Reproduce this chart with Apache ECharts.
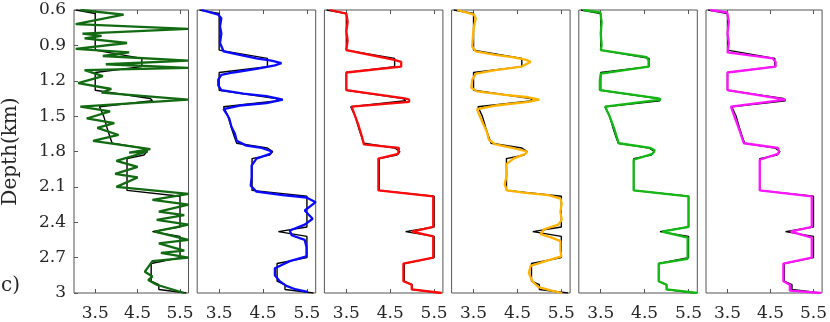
<!DOCTYPE html>
<html>
<head>
<meta charset="utf-8">
<script src="https://cdn.jsdelivr.net/npm/echarts@6/dist/echarts.min.js"></script>
<style>
  html, body { margin: 0; padding: 0; background: #fff; }
  #chart { width: 830px; height: 322px; }
</style>
</head>
<body>
<div id="chart"></div>
<script>
// points are [velocity (km/s), depth (km)]
const velTicks = [3.5, 4.5, 5.5]

const trueModel = [
  [3.05, 0.60], [3.5, 0.63], [3.5, 0.94], [4.6, 1.01], [4.6, 1.08], [3.5, 1.13], [3.5, 1.28],
  [4.8, 1.35], [4.85, 1.37], [3.6, 1.42], [3.7, 1.50], [3.78, 1.60], [3.85, 1.68], [3.9, 1.73],
  [4.6, 1.77], [4.72, 1.80], [4.65, 1.83], [4.25, 1.86], [4.25, 2.13], [5.5, 2.18], [5.5, 2.44],
  [4.85, 2.48], [5.5, 2.52], [5.5, 2.70], [4.82, 2.75], [4.82, 2.90], [5.0, 2.93], [5.0, 2.97],
  [5.65, 3.0]
]

const initModel = [
  [3.15, 0.60], [4.17, 0.64], [3.04, 0.72], [5.69, 0.76], [3.2, 0.80], [3.65, 0.82], [3.25, 0.84],
  [4.25, 0.88], [3.04, 0.93], [4.3, 0.96], [3.68, 0.99], [5.69, 1.03], [3.75, 1.06], [5.69, 1.09],
  [3.25, 1.11], [3.68, 1.16], [3.1, 1.22], [3.88, 1.27], [3.65, 1.30], [5.69, 1.36], [3.15, 1.42],
  [3.85, 1.46], [3.3, 1.52], [3.95, 1.56], [3.55, 1.60], [4.05, 1.66], [3.45, 1.71], [4.8, 1.78],
  [4.3, 1.81], [4.74, 1.80], [4.0, 1.88], [4.5, 1.93], [3.97, 1.99], [4.5, 2.02], [4.0, 2.1],
  [5.7, 2.16], [4.85, 2.21], [5.7, 2.25], [5.0, 2.31], [5.6, 2.34], [4.95, 2.38], [5.7, 2.42],
  [4.9, 2.48], [5.7, 2.55], [5.0, 2.58], [5.6, 2.64], [5.05, 2.66], [5.7, 2.70], [4.85, 2.73],
  [4.67, 2.82], [4.85, 2.86], [4.75, 2.89], [4.95, 2.93], [5.6, 3.0]
]

const blueModel = [
  [3.1, 0.60], [3.48, 0.64], [3.55, 0.67], [3.52, 0.74], [3.55, 0.80], [3.52, 0.88], [3.6, 0.95],
  [3.97, 0.98], [4.35, 1.01], [4.69, 1.03], [4.92, 1.05], [4.77, 1.07], [4.35, 1.10], [3.82, 1.13],
  [3.55, 1.15], [3.48, 1.19], [3.48, 1.24], [3.55, 1.28], [4.05, 1.31], [4.58, 1.33], [4.95, 1.36],
  [4.58, 1.39], [3.97, 1.41], [3.6, 1.44], [3.67, 1.48], [3.73, 1.52], [3.78, 1.59], [3.86, 1.65],
  [3.9, 1.71], [4.12, 1.75], [4.47, 1.77], [4.7, 1.80], [4.66, 1.82], [4.35, 1.86], [4.24, 1.92],
  [4.24, 2.02], [4.22, 2.09], [4.35, 2.14], [4.95, 2.17], [5.49, 2.19], [5.7, 2.23], [5.45, 2.30],
  [5.63, 2.37], [5.45, 2.42], [5.11, 2.47], [5.15, 2.51], [5.45, 2.55], [5.49, 2.61], [5.49, 2.69],
  [5.11, 2.73], [4.77, 2.79], [4.77, 2.85], [4.88, 2.90], [5.03, 2.94], [5.25, 2.97], [5.52, 2.99]
]

const redModel = [
  [3.13, 0.60], [3.5, 0.63], [3.53, 0.70], [3.5, 0.78], [3.53, 0.86], [3.5, 0.94], [4.57, 1.02],
  [4.75, 1.04], [4.75, 1.08], [3.5, 1.13], [3.5, 1.28], [4.83, 1.35], [4.93, 1.36], [4.93, 1.38],
  [3.62, 1.42], [3.7, 1.50], [3.77, 1.57], [3.86, 1.68], [3.9, 1.74], [4.7, 1.77], [4.68, 1.82],
  [4.23, 1.86], [4.23, 2.13], [5.48, 2.18], [5.48, 2.44], [5.0, 2.48], [5.48, 2.52], [5.48, 2.70],
  [4.8, 2.75], [4.8, 2.90], [4.99, 2.93], [4.99, 2.97], [5.67, 3.0]
]

const orangeModel = [
  [3.13, 0.60], [3.51, 0.64], [3.55, 0.67], [3.51, 0.74], [3.49, 0.80], [3.47, 0.91], [3.55, 0.95],
  [4.0, 0.98], [4.38, 1.0], [4.68, 1.02], [4.8, 1.04], [4.6, 1.08], [4.0, 1.11], [3.55, 1.14],
  [3.47, 1.19], [3.45, 1.26], [3.58, 1.29], [4.22, 1.32], [4.75, 1.34], [5.0, 1.36], [4.75, 1.38],
  [4.0, 1.41], [3.58, 1.44], [3.62, 1.48], [3.7, 1.55], [3.8, 1.63], [3.85, 1.70], [4.0, 1.74],
  [4.38, 1.77], [4.72, 1.80], [4.68, 1.82], [4.41, 1.86], [4.24, 1.91], [4.26, 1.99], [4.21, 2.08],
  [4.26, 2.13], [4.68, 2.15], [5.21, 2.17], [5.48, 2.20], [5.51, 2.24], [5.48, 2.31], [5.51, 2.38],
  [5.43, 2.42], [5.1, 2.46], [5.03, 2.50], [5.28, 2.53], [5.48, 2.56], [5.48, 2.64], [5.5, 2.69],
  [5.14, 2.73], [4.8, 2.77], [4.76, 2.83], [4.84, 2.90], [4.98, 2.95], [5.28, 2.98], [5.52, 3.0]
]

const greenModel = [
  [3.1, 0.60], [3.49, 0.62], [3.52, 0.70], [3.5, 0.80], [3.52, 0.90], [3.5, 0.94], [4.55, 1.0],
  [4.59, 1.03], [4.59, 1.08], [3.5, 1.14], [3.48, 1.20], [3.48, 1.28], [4.82, 1.35], [4.87, 1.36],
  [3.6, 1.42], [3.7, 1.50], [3.8, 1.60], [3.91, 1.73], [3.95, 1.74], [4.63, 1.77], [4.73, 1.79],
  [4.68, 1.82], [4.25, 1.87], [4.25, 2.13], [5.5, 2.18], [5.5, 2.44], [4.9, 2.48], [5.48, 2.53],
  [5.48, 2.71], [4.82, 2.75], [4.82, 2.90], [5.0, 2.93], [5.0, 2.97], [5.7, 3.0]
]

const magentaModel = [
  [3.1, 0.60], [3.49, 0.62], [3.53, 0.70], [3.5, 0.80], [3.53, 0.88], [3.5, 0.96], [4.55, 1.01],
  [4.62, 1.04], [4.62, 1.08], [3.5, 1.13], [3.5, 1.28], [4.85, 1.36], [3.58, 1.42], [3.68, 1.52],
  [3.78, 1.62], [3.88, 1.73], [4.67, 1.77], [4.7, 1.80], [4.67, 1.82], [4.25, 1.87], [4.25, 2.13],
  [5.46, 2.18], [5.46, 2.44], [4.97, 2.48], [5.46, 2.53], [5.46, 2.70], [4.8, 2.75], [4.8, 2.90],
  [4.95, 2.93], [4.95, 2.98], [5.67, 3.0]
]

const panels = [
  { data: initModel, color: '#126b12' },
  { data: blueModel, color: '#0a0aff' },
  { data: redModel, color: '#ff0a0a' },
  { data: orangeModel, color: '#ffb300' },
  { data: greenModel, color: '#14b814' },
  { data: magentaModel, color: '#ff14ff' }
]

const textColor = '#262626'
const axisColor = '#555'
const font = 'DejaVu Serif'

const grids = [], xAxes = [], yAxes = [], series = []
panels.forEach((p, i) => {
  grids.push({
    left: 70 + i * 127.2, top: 10, width: 118.5, height: 283,
    show: true, borderColor: axisColor, borderWidth: 1
  })
  // bottom axis with labels
  xAxes.push({
    type: 'value', gridIndex: i, min: 3.0, max: 5.7, position: 'bottom',
    axisLine: { show: false }, splitLine: { show: false },
    axisTick: { inside: true, length: 4, lineStyle: { color: axisColor }, customValues: velTicks },
    axisLabel: { customValues: velTicks, color: textColor, fontFamily: font, fontSize: 17, margin: 12 }
  })
  // top mirror ticks
  xAxes.push({
    type: 'value', gridIndex: i, min: 3.0, max: 5.7, position: 'top',
    axisLine: { show: false }, splitLine: { show: false }, axisLabel: { show: false },
    axisTick: { inside: true, length: 4, lineStyle: { color: axisColor }, customValues: velTicks }
  })
  yAxes.push({
    type: 'value', gridIndex: i, min: 0.6, max: 3, interval: 0.3, inverse: true,
    name: i === 0 ? 'Depth(km)' : '', nameLocation: 'middle', nameGap: 53,
    nameTextStyle: { color: textColor, fontFamily: font, fontSize: 20 },
    axisLine: { show: false }, splitLine: { show: false },
    axisTick: { show: i === 0, inside: true, length: 4, lineStyle: { color: axisColor } },
    axisLabel: {
      show: i === 0, color: textColor, fontFamily: font, fontSize: 17, margin: 8,
      formatter: v => String(+v.toFixed(1))
    }
  })
  series.push({
    type: 'line', xAxisIndex: i * 2, yAxisIndex: i, data: trueModel,
    showSymbol: false, silent: true, z: 2,
    lineStyle: { color: '#000', width: 1.4 }
  })
  series.push({
    type: 'line', xAxisIndex: i * 2, yAxisIndex: i, data: p.data,
    showSymbol: false, silent: true, z: 3,
    lineStyle: { color: p.color, width: 2.3 }
  })
})

const chart = echarts.init(document.getElementById('chart'))
chart.setOption({
  animation: false,
  grid: grids,
  xAxis: xAxes,
  yAxis: yAxes,
  series: series,
  graphic: [{
    type: 'text', left: 1, top: 276,
    style: { text: 'c)', fill: textColor, font: '20px "DejaVu Serif"' }
  }]
})
</script>
</body>
</html>
